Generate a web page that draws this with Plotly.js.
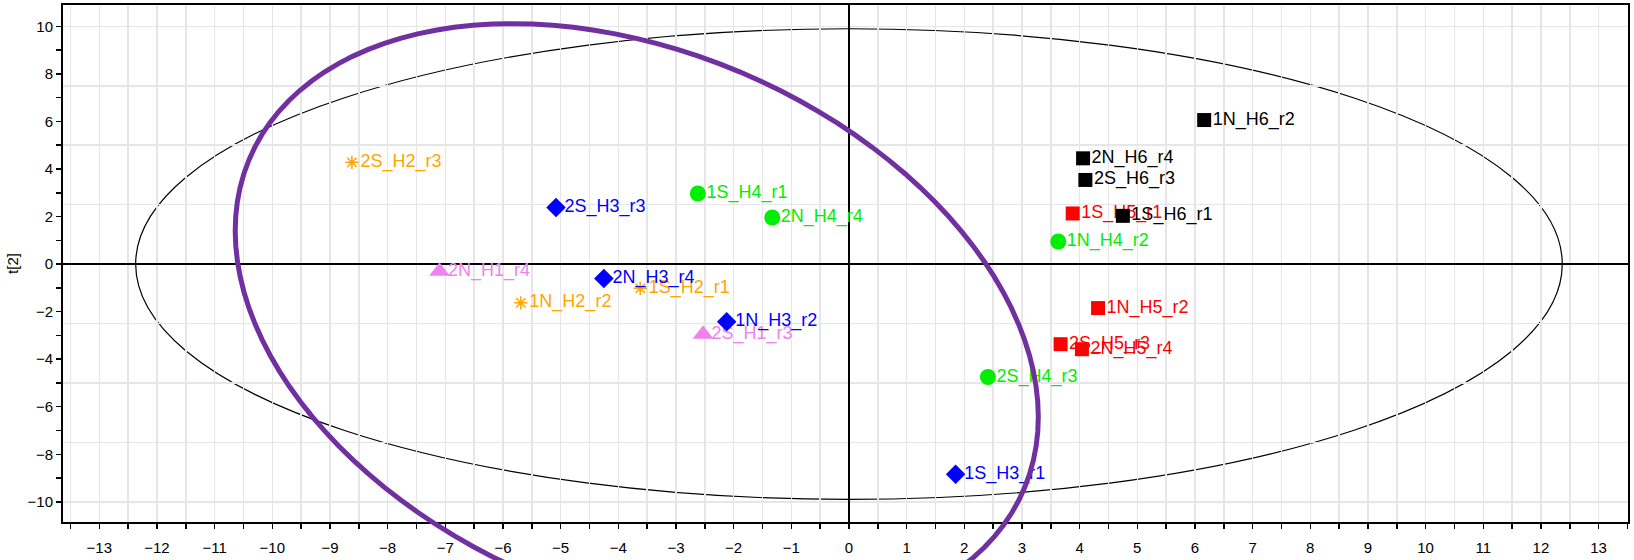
<!DOCTYPE html>
<html>
<head>
<meta charset="utf-8">
<script src="https://cdn.plot.ly/plotly-3.0.1.min.js"></script>
<style>
html,body{margin:0;padding:0;background:#fff;}
#chart{width:1634px;height:560px;}
</style>
</head>
<body>
<div id="chart"></div>
<script>
// ---- data (t[1] on x, t[2] on y) ----
const h1Names = ['2N_H1_r4', '2S_H1_r3'];
const h1X = [-7.10, -2.53];
const h1Y = [-0.30, -2.95];

const h2Names = ['2S_H2_r3', '1N_H2_r2', '1S_H2_r1'];
const h2X = [-8.62, -5.69, -3.62];
const h2Y = [4.28, -1.63, -1.02];

const h3Names = ['2S_H3_r3', '2N_H3_r4', '1N_H3_r2', '1S_H3_r1'];
const h3X = [-5.08, -4.25, -2.12, 1.85];
const h3Y = [2.38, -0.61, -2.43, -8.84];

const h4Names = ['1S_H4_r1', '2N_H4_r4', '1N_H4_r2', '2S_H4_r3'];
const h4X = [-2.62, -1.33, 3.63, 2.41];
const h4Y = [2.97, 1.96, 0.95, -4.75];

const h5Names = ['1S_H5_r1', '1N_H5_r2', '2S_H5_r3', '2N_H5_r4'];
const h5X = [3.88, 4.32, 3.67, 4.04];
const h5Y = [2.13, -1.85, -3.37, -3.58];

const h6Names = ['1N_H6_r2', '2N_H6_r4', '2S_H6_r3', '1S_H6_r1'];
const h6X = [6.16, 4.06, 4.10, 4.75];
const h6Y = [6.06, 4.45, 3.54, 2.03];

// Hotelling T2 ellipse semi-axes (t[1], t[2])
const t2EllipseA = 12.37;
const t2EllipseB = 9.90;

// hand-drawn purple highlight ellipse (center, conjugate semi-diameters)
const hlCenter = [-3.68, -2.514];
const hlU = [6.62, 0];
const hlV = [2.16, -12.63];

// ---- styles ----
const groupData = [
  {n: h1Names, x: h1X, y: h1Y, color: '#ee82ee', symbol: 'triangle-up', size: 18},
  {n: h2Names, x: h2X, y: h2Y, color: '#ffa500', symbol: 'asterisk-open', size: 11},
  {n: h3Names, x: h3X, y: h3Y, color: '#0000ff', symbol: 'diamond', size: 15},
  {n: h4Names, x: h4X, y: h4Y, color: '#00ee00', symbol: 'circle', size: 16},
  {n: h5Names, x: h5X, y: h5Y, color: '#ff0000', symbol: 'square', size: 14},
  {n: h6Names, x: h6X, y: h6Y, color: '#000000', symbol: 'square', size: 14}
];

const xRange = [-13.63, 13.51];
const yRange = [-10.85, 10.9];
const FONT = 'Liberation Sans, Arial, Helvetica, sans-serif';
const GRID = '#e6e6e6';

const traces = [];
groupData.forEach(g => {
  traces.push({
    type: 'scatter', mode: 'markers', x: g.x, y: g.y, hoverinfo: 'skip',
    marker: {symbol: g.symbol, size: g.size, color: g.color,
             line: {color: g.color, width: g.symbol === 'asterisk-open' ? 1.5 : 0}},
    cliponaxis: false
  });
  traces.push({
    type: 'scatter', mode: 'markers+text', x: g.x, y: g.y, text: g.n,
    textposition: 'middle right', hoverinfo: 'skip',
    textfont: {family: FONT, size: 18, color: g.color},
    marker: {size: 12, color: 'rgba(0,0,0,0)'},
    cliponaxis: false
  });
});
traces.push({type: 'scatter', x: [], y: [], yaxis: 'y2', hoverinfo: 'skip'});

// purple ellipse path in paper coordinates (drawn beyond the plot area)
const toPX = v => (v - xRange[0]) / (xRange[1] - xRange[0]);
const toPY = v => (v - yRange[0]) / (yRange[1] - yRange[0]);
let path = '';
const N = 120;
for (let i = 0; i <= N; i++) {
  const t = 2 * Math.PI * i / N;
  const ex = hlCenter[0] + hlU[0] * Math.cos(t) + hlV[0] * Math.sin(t);
  const ey = hlCenter[1] + hlU[1] * Math.cos(t) + hlV[1] * Math.sin(t);
  path += (i === 0 ? 'M' : 'L') + toPX(ex).toFixed(5) + ',' + toPY(ey).toFixed(5);
}
path += 'Z';

const tickCommon = {ticks: 'outside', ticklen: 5, tickwidth: 1.5, tickcolor: '#000'};

const layout = {
  width: 1634, height: 560,
  margin: {l: 63, r: 6, t: 5, b: 38, pad: 0},
  paper_bgcolor: '#ffffff', plot_bgcolor: '#ffffff',
  showlegend: false,
  font: {family: FONT, size: 15, color: '#000'},
  xaxis: Object.assign({
    range: xRange, dtick: 1, tick0: 0,
    showgrid: true, gridcolor: GRID, gridwidth: 1.5,
    zeroline: true, zerolinecolor: '#000', zerolinewidth: 1.5,
    showline: true, linecolor: '#000', linewidth: 2, mirror: true,
    ticklabelstandoff: 6,
    tickfont: {family: FONT, size: 15, color: '#000'},
    minor: Object.assign({dtick: 0.5, tick0: 0, showgrid: true, gridcolor: GRID, gridwidth: 1.5}, tickCommon)
  }, tickCommon),
  yaxis: Object.assign({
    range: yRange, dtick: 2, tick0: 0,
    showgrid: false,
    zeroline: true, zerolinecolor: '#000', zerolinewidth: 1.5,
    showline: true, linecolor: '#000', linewidth: 2, mirror: true,
    tickfont: {family: FONT, size: 15, color: '#000'},
    minor: Object.assign({dtick: 1, tick0: 0, showgrid: false}, tickCommon),
    title: {text: 't[2]', font: {family: FONT, size: 15, color: '#000'}, standoff: 5}
  }, tickCommon),
  yaxis2: {
    overlaying: 'y', range: yRange, dtick: 2.5, tick0: 0,
    showgrid: true, gridcolor: GRID, gridwidth: 1.5,
    showticklabels: false, ticks: '', zeroline: false, showline: false
  },
  shapes: [
    {type: 'circle', xref: 'x', yref: 'y', x0: -t2EllipseA, x1: t2EllipseA, y0: -t2EllipseB, y1: t2EllipseB,
     line: {color: '#000', width: 1.2}, layer: 'below'},
    {type: 'path', xref: 'paper', yref: 'paper', path: path,
     line: {color: '#7030a0', width: 5}, layer: 'above'}
  ]
};

Plotly.newPlot('chart', traces, layout, {staticPlot: true, displayModeBar: false});
</script>
</body>
</html>
